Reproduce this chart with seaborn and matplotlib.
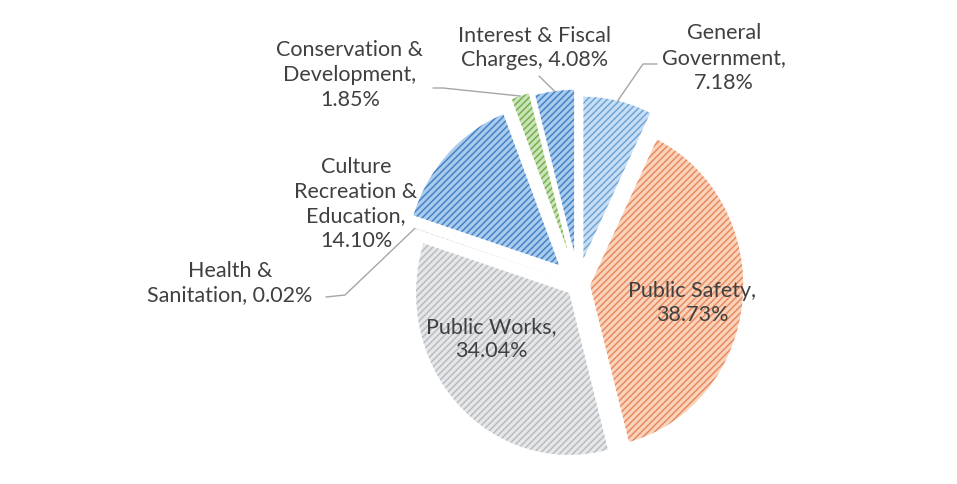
import matplotlib
matplotlib.use("Agg")
import matplotlib.pyplot as plt
import seaborn as sns
import numpy as np

# ---- data ----
categories = ["General Government", "Public Safety", "Public Works", "Health & Sanitation",
              "Culture Recreation & Education", "Conservation & Development",
              "Interest & Fiscal Charges"]
values = [7.18, 38.73, 34.04, 0.02, 14.10, 1.85, 4.08]
label_names = ["General\nGovernment", "Public Safety", "Public Works", "Health &\nSanitation",
               "Culture\nRecreation &\nEducation", "Conservation &\nDevelopment",
               "Interest & Fiscal\nCharges"]
value_sep = ["\n", "\n", "\n", " ", "\n", "\n", " "]

# ---- style ----
fills = ["#c9def2", "#f9d3ba", "#e5e7e9", "#b0b0b0", "#a9cbec", "#cbe3b9", "#a9cbec"]
lines = ["#6ea6da", "#e98a62", "#b9bdc1", "#8c8c8c", "#4682c8", "#74b04c", "#4682c8"]
explode = [0.16, 0.08, 0.08, 0.12, 0.17, 0.22, 0.2]
text_color = "#404040"

sns.set_theme(style="white")
plt.rcParams["font.family"] = ["Lato", "DejaVu Sans"]
plt.rcParams["hatch.linewidth"] = 1.1

W, H = 957, 485
fig = plt.figure(figsize=(W / 100, H / 100), dpi=100)
fig.patch.set_facecolor("white")
ax = fig.add_axes([0, 0, 1, 1])

# pixel mapping for the pie
cx, cy = 578, 285
sx, sy = 153, 162

def px2d(px, py):
    return (px - cx) / sx, (cy - py) / sy

wedges, _ = ax.pie(values, explode=explode, startangle=90, counterclock=False,
                   colors=fills, wedgeprops=dict(linewidth=0))
for w, lc in zip(wedges, lines):
    w.set_edgecolor(lc)
    w.set_linewidth(0)
    w.set_hatch("/////")

ax.set_aspect("auto")
ax.set_xlim(-cx / sx, (W - cx) / sx)
ax.set_ylim(-(H - cy) / sy, cy / sy)
ax.axis("off")

labels = [f"{n},{s}{v:.2f}%" for n, s, v in zip(label_names, value_sep, values)]

# label centres in pixels (layout)
label_pos = [(724, 58), (692, 303), (491, 339), (230, 283), (356, 204), (350, 75), (535, 48)]
# leader line path (pixels) from label side, None if inside
leaders = [[(643, 65), (657, 65)], None, None, [(345, 296), (326, 298)], None,
           [(443, 89), (433, 89)], [(539, 77)]]

for i, (w, lab, (px, py)) in enumerate(zip(wedges, labels, label_pos)):
    x, y = px2d(px, py)
    ax.text(x, y, lab, ha="center", va="center", fontsize=15.5, color=text_color,
            linespacing=1.3)
    if leaders[i] is not None:
        mid = np.deg2rad((w.theta1 + w.theta2) / 2)
        ax0 = w.center[0] + w.r * np.cos(mid)
        ay0 = w.center[1] + w.r * np.sin(mid)
        pts = [(ax0, ay0)] + [px2d(*p) for p in leaders[i]]
        xs, ys = zip(*pts)
        ax.plot(xs, ys, color="#a6a6a6", lw=1.0)

fig.savefig("out.png", dpi=100, facecolor="white")
